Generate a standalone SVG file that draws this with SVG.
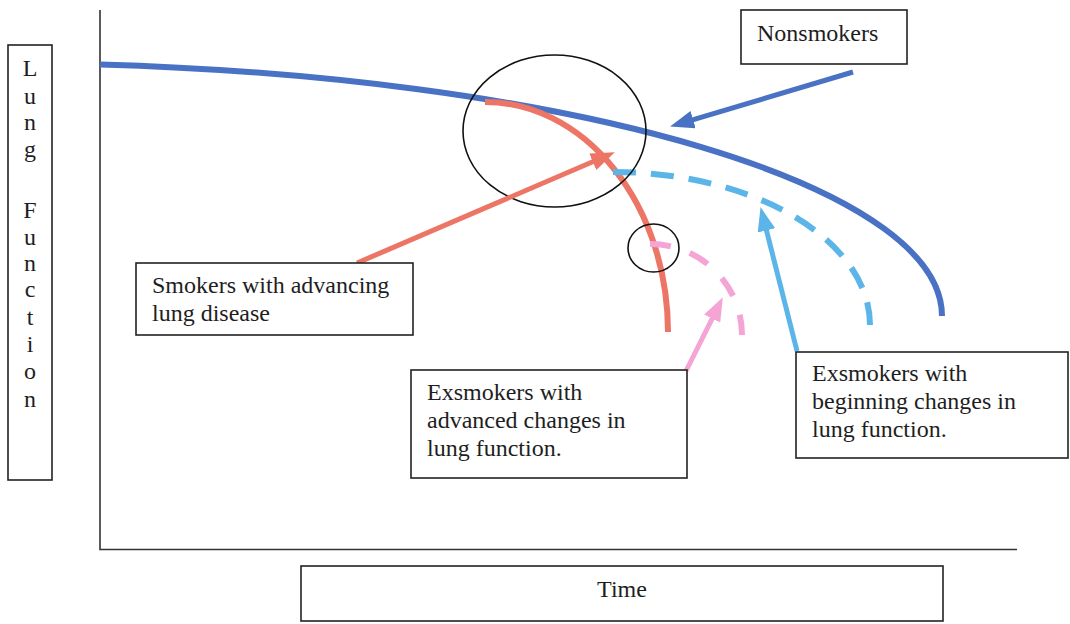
<svg xmlns="http://www.w3.org/2000/svg" width="1070" height="624" viewBox="0 0 1070 624">
  <style>
    .box { fill: #fff; stroke: #222; stroke-width: 1.6; }
    .lbl { font-family: "Liberation Serif", "Times New Roman", serif; font-size: 24px; fill: #1e1e1e; }
    .axis { stroke: #333; stroke-width: 1.6; fill: none; }
    .ring { stroke: #111; stroke-width: 1.6; fill: none; }
    .curve { fill: none; stroke-width: 6; stroke-linecap: butt; }
    .ptr { fill: none; stroke-width: 5; }
  </style>
  <defs>
    <marker id="headNavy" markerUnits="userSpaceOnUse" markerWidth="24" markerHeight="18" refX="12" refY="9" orient="auto">
      <path d="M0,0 L24,9 L0,18 Z" fill="#4a72c4"/>
    </marker>
    <marker id="headRed" markerUnits="userSpaceOnUse" markerWidth="24" markerHeight="18" refX="12" refY="9" orient="auto">
      <path d="M0,0 L24,9 L0,18 Z" fill="#ec7565"/>
    </marker>
    <marker id="headSky" markerUnits="userSpaceOnUse" markerWidth="24" markerHeight="18" refX="12" refY="9" orient="auto">
      <path d="M0,0 L24,9 L0,18 Z" fill="#5cb5e8"/>
    </marker>
    <marker id="headPink" markerUnits="userSpaceOnUse" markerWidth="24" markerHeight="18" refX="12" refY="9" orient="auto">
      <path d="M0,0 L24,9 L0,18 Z" fill="#f4a5d6"/>
    </marker>
  </defs>

  <rect width="1070" height="624" fill="#fff"/>

  <!-- axes -->
  <g id="axes">
    <path class="axis" d="M100,10 V549.5 H1017"/>
  </g>

  <!-- y-axis label -->
  <g id="y-label">
    <rect class="box" x="8" y="45" width="44" height="435"/>
    <g class="lbl" text-anchor="middle">
      <text x="30" y="76">L</text>
      <text x="30" y="104">u</text>
      <text x="30" y="130">n</text>
      <text x="30" y="157">g</text>
      <text x="30" y="218">F</text>
      <text x="30" y="245">u</text>
      <text x="30" y="271">n</text>
      <text x="30" y="297">c</text>
      <text x="30" y="325">t</text>
      <text x="30" y="352">i</text>
      <text x="30" y="379">o</text>
      <text x="30" y="407">n</text>
    </g>
  </g>

  <!-- x-axis label -->
  <g id="x-label">
    <rect class="box" x="301" y="566" width="642" height="55"/>
    <text class="lbl" x="622" y="597" text-anchor="middle">Time</text>
  </g>

  <!-- decline curves -->
  <g id="curves">
    <path id="nonsmokers-curve" class="curve" stroke="#4a72c4" d="M100,64.4 A942,253 0 0 1 942,316"/>
    <path id="smokers-curve" class="curve" stroke="#ec7565" stroke-width="5.5" d="M485,102 A183,230 0 0 1 668,332"/>
    <path id="exsmokers-beginning-curve" class="curve" stroke="#5cb5e8" stroke-dasharray="23 15" d="M613,172 A257,153 0 0 1 870,325"/>
    <path id="exsmokers-advanced-curve" class="curve" stroke="#f4a5d6" stroke-dasharray="21 20" d="M650,244 A92,91 0 0 1 742,335"/>
  </g>

  <!-- highlight rings -->
  <g id="rings">
    <ellipse class="ring" cx="554.5" cy="131" rx="91.5" ry="76"/>
    <ellipse class="ring" cx="653.5" cy="248" rx="25.5" ry="24"/>
  </g>

  <!-- pointers -->
  <g id="connectors">
    <line class="ptr" stroke="#4a72c4" x1="853" y1="72" x2="681.6" y2="123.1" marker-end="url(#headNavy)"/>
    <line class="ptr" stroke="#ec7565" x1="357" y1="263" x2="603.8" y2="157" marker-end="url(#headRed)"/>
    <line class="ptr" stroke="#5cb5e8" x1="797" y1="351" x2="763.5" y2="218.7" marker-end="url(#headSky)"/>
    <line class="ptr" stroke="#f4a5d6" x1="686" y1="371" x2="717.5" y2="307.9" marker-end="url(#headPink)"/>
  </g>

  <!-- label boxes -->
  <g id="node-nonsmokers">
    <rect class="box" x="741" y="10" width="166" height="54"/>
    <text class="lbl" x="757" y="41">Nonsmokers</text>
  </g>

  <g id="node-smokers">
    <rect class="box" x="136" y="263" width="277" height="72"/>
    <text class="lbl" x="152" y="293">Smokers with advancing</text>
    <text class="lbl" x="152" y="321">lung disease</text>
  </g>

  <g id="node-exsmokers-advanced">
    <rect class="box" x="411" y="370" width="276" height="108"/>
    <text class="lbl" x="427" y="400">Exsmokers with</text>
    <text class="lbl" x="427" y="428">advanced changes in</text>
    <text class="lbl" x="427" y="456">lung function.</text>
  </g>

  <g id="node-exsmokers-beginning">
    <rect class="box" x="796" y="352" width="272" height="106"/>
    <text class="lbl" x="812" y="381">Exsmokers with</text>
    <text class="lbl" x="812" y="409">beginning changes in</text>
    <text class="lbl" x="812" y="437">lung function.</text>
  </g>
</svg>
